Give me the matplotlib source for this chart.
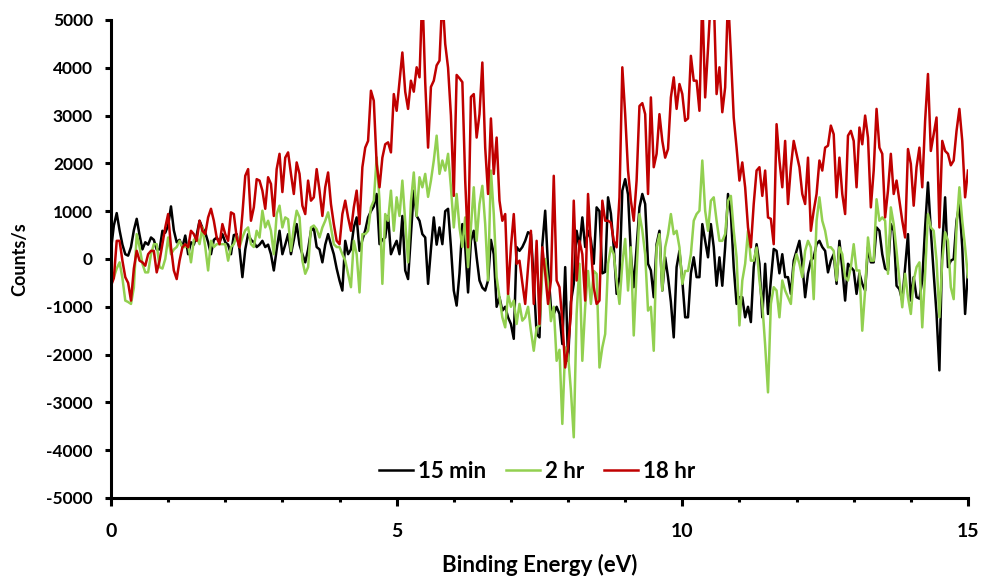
import numpy as np
import matplotlib
matplotlib.use('Agg')
import matplotlib.pyplot as plt
from matplotlib.ticker import MultipleLocator

# binding energy grid, 0.05 eV steps
energy = np.linspace(0, 15, 301)

# difference spectra (counts/s)
c_15min = [
    200, 700, 960, 600, 300, 100, 70, 250, 600, 840,
    500, 200, 350, 300, 450, 400, 200, 200, 590, 550,
    700, 1100, 600, 350, 400, 250, 490, 100, 350, 300,
    500, 800, 650, 550, 350, 100, 400, 450, 350, 520,
    350, 300, 100, 500, 520, 200, -380, 200, 520, 400,
    350, 250, 300, 380, 250, 300, 100, -240, 200, 590,
    100, 300, 520, 100, 400, 730, 300, 100, -70, 200,
    590, 650, 250, 200, -70, 300, 520, 300, 100, -200,
    -450, -660, 380, 100, 200, 660, 870, 170, 400, 600,
    870, 1000, 1100, 1360, 310, 400, 450, 900, 100, 250,
    380, 100, 900, -240, -420, 500, 1430, 900, 800, 520,
    450, -520, 200, 870, 300, 660, 310, 1000, 1050, 250,
    -660, -975, -300, 730, 250, -700, 380, 590, 35, -450,
    -600, -660, -450, 400, 100, -1000, -800, -1080, -1000, -1220,
    -1360, -1670, 250, 170, 250, 380, 560, 520, -450, -1570,
    -1640, 300, 1010, -170, -1010, -1150, -1000, -1150, -1780, -170,
    -2130, -900, -520, 590, 250, 870, 250, 590, 400, -100,
    1080, 1000, -300, -270, 1290, 950, 250, -730, -380, 1430,
    1670, 1350, 100, -590, 250, 1080, 1360, 1150, -100, -240,
    -800, 310, 590, -660, 35, -380, -900, -1640, -170, 170,
    -450, -1220, -1220, -300, 35, -380, -380, 730, 380, 35,
    730, 250, -560, 35, -560, 250, 1360, 950, -170, -940,
    -800, -800, -1220, -1000, -1320, -170, 310, -100, -1220, -100,
    -1150, -450, 210, 170, -300, 100, -380, -380, -730, -35,
    170, 380, -100, -800, -300, -35, 35, 310, 380, 250,
    170, -280, -35, 100, -520, 380, -200, -870, -100, -170,
    -240, -730, -300, -520, -660, 250, -70, -70, 660, 590,
    100, -200, -240, 730, 590, -560, -630, -870, -170, 520,
    -870, -380, -800, -830, -450, 660, 1600, 600, -300, -1150,
    -2330, 250, 1290, -170, -35, 0, 800, 1150, 250, -1150,
    -240,
]

c_2hr = [
    -500, -380, -200, -70, -400, -870, -900, -940, -600, 520,
    250, -100, -280, -280, 100, 310, 310, -170, -200, 0,
    450, 100, 200, 250, 380, 250, 250, 300, -70, 400,
    450, 310, 660, 250, -240, 380, 250, 310, 310, 310,
    310, -35, 250, 310, 490, 250, 450, 600, 660, 310,
    250, 590, 450, 1010, 660, 800, 590, 100, 940, 1115,
    660, 870, 830, 170, 660, 1010, 870, -35, -310, -170,
    660, 700, 620, 450, 660, 800, 975, 660, 310, 250,
    250, 100, -35, -310, -590, 380, 100, -700, 520, 520,
    590, 1080, 1220, 2125, 1220, -520, 940, 800, 1430, 590,
    1290, 900, 1640, 800, -70, 1200, 1810, 900, 1710, 1500,
    1780, 1300, 1640, 2060, 2580, 1780, 2060, 1850, 2200, 1500,
    660, 1360, 660, 250, 870, -170, 660, 1500, 380, 1150,
    1530, 730, -450, 1850, 940, -380, -800, -1220, -1430, -730,
    -1000, -870, -1360, -940, -1290, -1220, -1000, -1500, -1920, -1430,
    -1400, -240, 0, -500, -1300, -1000, -2130, -1900, -3450, -1850,
    -2000, -2750, -3730, -1150, -100, -2130, -1000, -250, -940, -250,
    -310, -2270, -1850, -1570, -100, 245, 100, -450, -940, -100,
    420, -660, 245, -1600, -250, 940, 600, 100, -1080, -1000,
    -1920, 245, 520, -660, 245, 520, 940, 520, 590, 245,
    -520, -250, -250, 100, 800, 940, 1010, 2060, 1010, 590,
    1220, 1290, 800, 380, 380, 520, 1220, 1320, 590, 35,
    -1390, -450, -100, 590, -35, -35, 240, -450, -940, -1800,
    -2790, -940, -590, -660, -1220, -450, -660, -800, -940, -170,
    100, -100, -380, 170, 380, 245, -840, 800, 1290, 800,
    590, 245, 245, 170, -450, 245, 100, -380, -450, -170,
    310, -240, -240, -1500, -660, 450, -35, -35, 1250, 800,
    870, 800, -310, 1080, 730, 170, -450, -1010, -310, -800,
    -1150, -450, -170, -70, -1430, -310, 940, 660, 590, -35,
    -1220, -35, 560, 380, -590, -840, 660, 1500, 800, 245,
    -380,
]

c_18hr = [
    -560, -400, 380, 380, -35, -380, -500, -870, -200, 170,
    -35, -70, -140, 100, 170, 170, -280, -35, 310, 660,
    940, 245, -240, -420, -35, 245, 310, 245, 590, 520,
    380, 800, 590, 520, 870, 1050, 800, 450, 310, 730,
    520, 380, 975, 940, 450, 245, 940, 1740, 1880, 800,
    1080, 1670, 1640, 1430, 1050, 1710, 1570, 900, 1880, 2200,
    1400, 2120, 2230, 1780, 1360, 2020, 1780, 1115, 940, 1640,
    1220, 1290, 1880, 1430, 900, 1500, 1810, 1150, 730, 380,
    310, 940, 1220, 870, 590, 1080, 1430, 730, 1920, 2330,
    2470, 3520, 3310, 1990, 1500, 2120, 2400, 2440, 2230, 3450,
    3100, 3700, 4320, 3500, 3140, 3730, 3500, 4010, 3800, 5600,
    3700, 2330, 3600, 3730, 4050, 4150, 5500, 4500, 4000, 3000,
    1320, 3850, 3780, 3700, 1640, 245, 3390, 3450, 2540, 3030,
    4110, 2330, 1360, 2940, 1780, 2540, 1220, 800, 940, -730,
    245, 940, -100, -35, -500, -940, -170, 590, -940, 380,
    -1360, 245, -300, -940, -450, 1740, -450, -590, -1290, -2270,
    -1850, -1150, 1220, -450, 380, 100, -870, 1360, 245, -590,
    -940, -870, 1220, 800, 800, 760, 380, 245, 1290, 4010,
    3030, 1850, 1220, 800, 1640, 3200, 3260, 3030, 1360, 3380,
    1920, 2200, 3030, 2470, 2120, 2300, 3380, 3800, 3140, 3660,
    3450, 2890, 2940, 4250, 3730, 3730, 3100, 5500, 3380, 4400,
    5500, 5500, 3450, 4010, 3070, 3590, 5500, 4290, 2960, 2330,
    1640, 2020, 1500, 660, 245, 1150, 1850, 1920, 1320, 1850,
    870, 840, 310, 2820, 2060, 1500, 2470, 1150, 1920, 2470,
    2200, 1920, 1360, 1150, 2120, 590, 1010, 1360, 2060, 1850,
    2330, 2370, 2790, 2610, 1290, 2120, 1360, 940, 2580, 2680,
    2470, 1500, 2750, 2400, 3000, 2540, 1080, 1850, 3140, 2330,
    2200, 870, 1430, 2200, 1360, 1640, 1220, 800, 450, 2300,
    1990, 1115, 1920, 2330, 1500, 2890, 3870, 2260, 2610, 2960,
    660, 2470, 2260, 2200, 1960, 2060, 2680, 3140, 2470, 1290,
    1850,
]

labels = ['15 min', '2 hr', '18 hr']
colors = ['black', '#92D050', '#C00000']

plt.rcParams['font.family'] = ['Lato', 'DejaVu Sans']
plt.rcParams['font.weight'] = 'bold'
plt.rcParams['axes.unicode_minus'] = False

fig = plt.figure(figsize=(9.84, 5.79), dpi=100)
ax = fig.add_axes([0.1128, 0.1399, 0.8709, 0.8256])

for y, lab, col in zip([c_15min, c_2hr, c_18hr], labels, colors):
    ax.plot(energy, y, color=col, lw=1.8, label=lab)

ax.set_xlim(0, 15)
ax.set_ylim(-5000, 5000)
ax.xaxis.set_major_locator(MultipleLocator(5))
ax.xaxis.set_minor_locator(MultipleLocator(1))
ax.yaxis.set_major_locator(MultipleLocator(1000))

for s in ['top', 'right']:
    ax.spines[s].set_visible(False)
for s in ['left', 'bottom']:
    ax.spines[s].set_linewidth(2.2)

ax.tick_params(axis='y', which='major', direction='out', length=4, width=2.2,
               labelsize=12.5, pad=9)
ax.tick_params(axis='x', which='major', direction='out', length=6, width=2.2,
               labelsize=14, pad=12)
ax.tick_params(axis='x', which='minor', direction='out', length=3, width=2.2)
for t in ax.get_xticklabels() + ax.get_yticklabels():
    t.set_fontweight('bold')

ax.set_xlabel('Binding Energy (eV)', fontsize=16, fontweight='bold')
ax.set_ylabel('Counts/s', fontsize=13, fontweight='bold')
ax.xaxis.set_label_coords(0.5, -0.118)
ax.yaxis.set_label_coords(-0.096, 0.5)

ax.legend(loc='center', bbox_to_anchor=(0.497, 0.055), ncol=3, frameon=False,
          handlelength=1.55, handletextpad=0.2, columnspacing=0.9,
          prop={'weight': 'bold', 'size': 16})

fig.savefig('out.png', dpi=100)
